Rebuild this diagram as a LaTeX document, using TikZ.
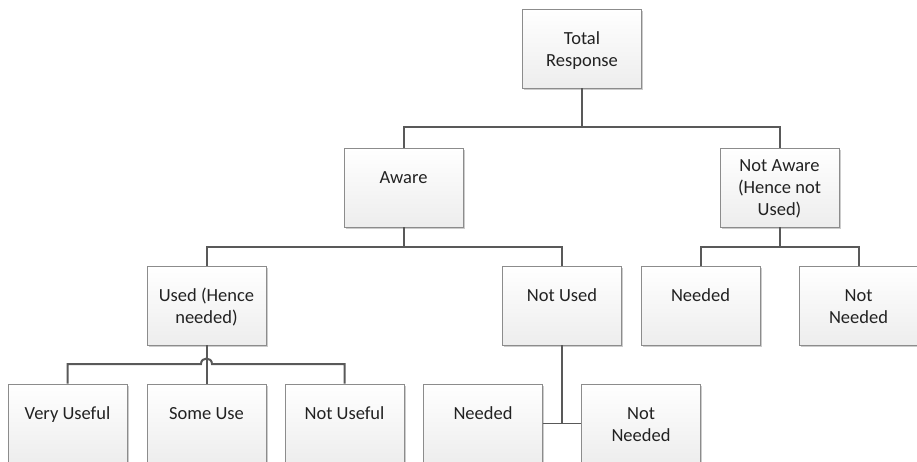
\documentclass[tikz,border=0pt]{standalone}
\usepackage{fontspec}
\setmainfont{Carlito}
\usetikzlibrary{shadows}
\definecolor{linec}{HTML}{595959}
\definecolor{boxc}{HTML}{8C8C8C}
\definecolor{txtc}{HTML}{222222}
\newcommand\bt[2][35pt]{\parbox[c][79pt][t]{119pt}{\centering\rule{0pt}{#1}#2\par}}
\tikzset{
  box/.style={draw=boxc, line width=0.8pt, top color=white, bottom color=black!7,
    minimum width=119pt, minimum height=79pt, inner sep=0pt, text=txtc,
    font=\fontsize{18.5}{22}\selectfont,
    drop shadow={shadow xshift=1.5pt, shadow yshift=-1.5pt, opacity=0.2, fill=black}},
  conn/.style={draw=linec, line width=2pt},
  thinconn/.style={draw=linec, line width=1.3pt}
}
\begin{document}
\begin{tikzpicture}[x=1pt,y=-1pt]
\useasboundingbox (0,0) rectangle (917,461);
\clip (0,0) rectangle (917,461);
% nodes
\node[box] (tr)   at (582,48.5)    {\bt{Total\\Response}};
\node[box] (aw)   at (403.5,187.5) {\bt{Aware}};
\node[box] (na)   at (779.5,187.5) {\bt[23pt]{Not Aware\\(Hence not\\Used)}};
\node[box] (used) at (206.5,305.5) {\bt{Used (Hence\\needed)}};
\node[box] (nu)   at (562,305.5)   {\bt{Not Used}};
\node[box] (nan)  at (700.5,305.5) {\bt{Needed}};
\node[box] (nann) at (858.5,305.5) {\bt{Not\\Needed}};
\node[box] (vu)   at (67.5,423.5)  {\bt{Very Useful}};
\node[box] (su)   at (206.5,423.5) {\bt{Some Use}};
\node[box] (nuf)  at (344.5,423.5) {\bt{Not Useful}};
\node[box] (nun)  at (483,423.5)   {\bt{Needed}};
\node[box] (nunn) at (641,423.5)   {\bt{Not\\Needed}};
% junctions
\coordinate (j1) at (582,127);
\coordinate (j2) at (403.5,247);
\coordinate (j3) at (779.5,247);
\coordinate (j5) at (562,423.5);
\coordinate (h1) at (201,364);
\coordinate (h2) at (212,364);
% connectors
\draw[conn] (tr.south) -- (j1);
\draw[conn] (aw.north) |- (j1) -| (na.north);
\draw[conn] (aw.south) -- (j2);
\draw[conn] (used.north) |- (j2) -| (nu.north);
\draw[conn] (na.south) -- (j3);
\draw[conn] (nan.north) |- (j3) -| (nann.north);
\draw[conn] (used.south) -- (su.north);
\draw[conn] (vu.north) |- (h1) .. controls (201,356.7) and (212,356.7) .. (h2) -| (nuf.north);
\draw[conn] (nu.south) -- (j5);
\draw[thinconn] (nun.east) -- (nunn.west);
\end{tikzpicture}
\end{document}
